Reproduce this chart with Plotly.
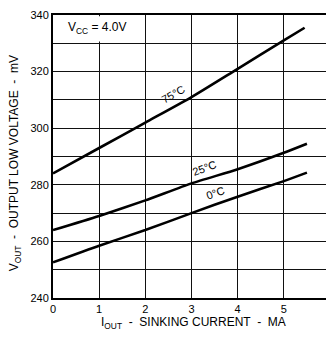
import plotly.graph_objects as go

# Data
current_75 = [0, 1, 2, 3, 4, 5, 5.45]
vout_75 = [284, 293, 302, 311, 321, 331, 335.5]
current_25 = [0, 1, 2, 3, 4, 5, 5.5]
vout_25 = [264, 269, 274.5, 280.5, 285.5, 291.3, 294.5]
current_0 = [0, 1, 2, 3, 4, 5, 5.5]
vout_0 = [252.6, 258.5, 264, 270, 275.8, 281.3, 284.3]

x_ticks = [0, 1, 2, 3, 4, 5, 6]
x_tick_labels = ["0", "1", "2", "3", "4", "5", "6"]
y_ticks = [240, 250, 260, 270, 280, 290, 300, 310, 320, 330, 340]
y_tick_labels = ["240", "", "260", "", "280", "", "300", "", "320", "", "340"]

FONT = "Liberation Sans Narrow, Arial Narrow, Liberation Sans, sans-serif"

fig = go.Figure()
for xs, ys in [(current_75, vout_75), (current_25, vout_25), (current_0, vout_0)]:
    fig.add_trace(go.Scatter(x=xs, y=ys, mode="lines",
                             line=dict(color="black", width=2.6, shape="spline", smoothing=0.6),
                             showlegend=False, hoverinfo="skip"))

# white patch hiding the x=1 gridline inside the top-left label cell
fig.add_shape(type="rect", x0=0.03, x1=1.97, y0=330.6, y1=339.6, layer="between",
              fillcolor="white", line=dict(width=0))

# page body has an 8px margin, so the figure is shrunk to fit the window
fig.update_layout(
    width=326, height=335,
    margin=dict(l=45, r=1, t=5, b=45),
    paper_bgcolor="white", plot_bgcolor="white",
    font=dict(family=FONT, size=11, color="black"),
    xaxis=dict(range=[0, 6], tickvals=x_ticks, ticktext=x_tick_labels,
               showgrid=True, gridcolor="#111", gridwidth=1, zeroline=False,
               showline=True, linecolor="black", linewidth=2, mirror=True,
               ticks="", ticklabeloverflow="allow", tickfont=dict(size=11, family=FONT)),
    yaxis=dict(range=[240, 340], tickvals=y_ticks, ticktext=y_tick_labels,
               showgrid=True, gridcolor="#111", gridwidth=1.2, zeroline=False,
               showline=True, linecolor="black", linewidth=2, mirror=True,
               ticks="", ticklabeloverflow="allow", tickfont=dict(size=11, family=FONT)),
)

ann = [
    dict(x=0.97, y=335.3, xref="x", yref="y", text="V<sub>CC</sub> = 4.0V",
         showarrow=False, font=dict(size=12, family=FONT)),
    dict(x=2.61, y=312, xref="x", yref="y", text="75°C", textangle=-30,
         showarrow=False, font=dict(size=11, family=FONT)),
    dict(x=3.28, y=286, xref="x", yref="y", text="25°C", textangle=-20,
         showarrow=False, font=dict(size=11, family=FONT)),
    dict(x=3.51, y=277.2, xref="x", yref="y", text="0°C", textangle=-20,
         showarrow=False, font=dict(size=11, family=FONT)),
    dict(x=(187 - 45) / 280, y=(290 - 315) / 285, xref="paper", yref="paper",
         xanchor="center", yanchor="middle",
         text="I<sub>OUT</sub>  -  SINKING CURRENT  -  MA", showarrow=False,
         font=dict(size=12, family=FONT)),
    dict(x=(7 - 45) / 280, y=(290 - 154) / 285, xref="paper", yref="paper",
         xanchor="center", yanchor="middle",
         text="V<sub>OUT</sub>  -  OUTPUT LOW VOLTAGE  -  mV", textangle=-90,
         showarrow=False, font=dict(size=12, family=FONT)),
]
fig.update_layout(annotations=ann)

fig.write_html("out.html")
